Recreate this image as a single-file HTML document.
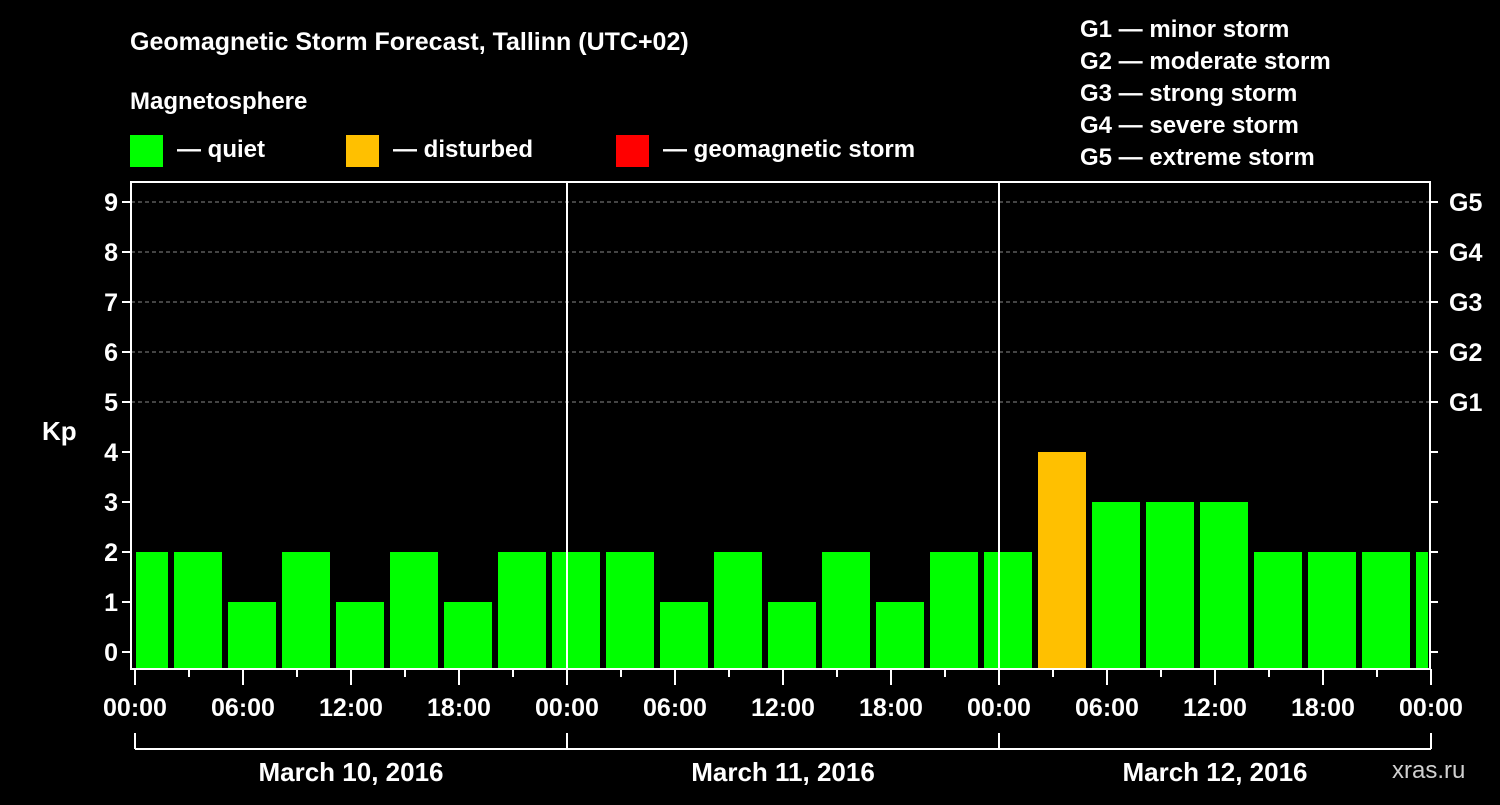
<!DOCTYPE html>
<html><head><meta charset="utf-8"><style>
body{margin:0;background:#000;width:1500px;height:800px;overflow:hidden}
svg text{font-family:"Liberation Sans",Arial,sans-serif;font-weight:bold;fill:#fff}
</style></head><body>
<svg id="c" width="1500" height="800" xmlns="http://www.w3.org/2000/svg">
<text x="130" y="50" font-size="25">Geomagnetic Storm Forecast, Tallinn (UTC+02)</text>
<text x="130" y="109" font-size="24">Magnetosphere</text>
<g><rect x="130" y="135" width="33" height="32" fill="#00ff00"/><text x="177" y="157" font-size="24">— quiet</text></g>
<g><rect x="346" y="135" width="33" height="32" fill="#ffc000"/><text x="393" y="157" font-size="24">— disturbed</text></g>
<g><rect x="616" y="135" width="33" height="32" fill="#ff0000"/><text x="663" y="157" font-size="24">— geomagnetic storm</text></g>
<g font-size="24">
<text x="1080" y="37">G1 — minor storm</text><text x="1080" y="69">G2 — moderate storm</text><text x="1080" y="101">G3 — strong storm</text><text x="1080" y="133">G4 — severe storm</text><text x="1080" y="165">G5 — extreme storm</text></g>
<text x="42" y="440" font-size="26">Kp</text>
<text x="1392" y="778" font-size="24" fill="#ccc" style="fill:#d0d0d0;font-weight:normal">xras.ru</text>
<g id="bars"></g><g id="axes"></g>
</svg>
<script>
const values=[2,2,1,2,1,2,1,2,2,2,1,2,1,2,1,2,2,4,3,3,3,2,2,2,2];
const yTicks=[0,1,2,3,4,5,6,7,8,9];
const gLabels=["G1","G2","G3","G4","G5"];
const xLabels=["00:00","06:00","12:00","18:00","00:00","06:00","12:00","18:00","00:00","06:00","12:00","18:00","00:00"];
const dayLabels=["March 10, 2016","March 11, 2016","March 12, 2016"];
const NS="http://www.w3.org/2000/svg";
const L=131,R=1430,T=182,B=669,X0=135,HPX=18;
const y=v=>652-50*v, x=h=>X0+h*HPX;
function mk(t,a,p){const e=document.createElementNS(NS,t);for(const k in a)e.setAttribute(k,a[k]);(p||document.getElementById('axes')).appendChild(e);return e;}
const bars=document.getElementById('bars');
values.forEach((v,i)=>{const cx=x(i*3+0.5);let x1=Math.max(cx-24,L+5),x2=Math.min(cx+24,R-2);
const r=mk('rect',{x:x1,y:y(v),width:x2-x1,height:B-y(v),fill:v>=5?'#ff0000':v>=4?'#ffc000':'#00ff00'},bars);

});
yTicks.forEach(v=>{
if(v>=5){const g=mk('line',{x1:L,x2:R,y1:y(v),y2:y(v),stroke:'#888','stroke-dasharray':'4,3','stroke-width':1});}
mk('line',{x1:L-9,x2:L,y1:y(v),y2:y(v),stroke:'#fff','stroke-width':2});
mk('line',{x1:R,x2:R+8,y1:y(v),y2:y(v),stroke:'#fff','stroke-width':2});
const t=mk('text',{x:L-13,y:y(v)+9,'font-size':25,'text-anchor':'end'});t.textContent=v;
});
gLabels.forEach((g,i)=>{const t=mk('text',{x:R+19,y:y(5+i)+9,'font-size':25});t.textContent=g;
});
mk('rect',{x:L,y:T,width:R-L,height:B-T,fill:'none',stroke:'#fff','stroke-width':2});
[1,2].forEach(d=>mk('line',{x1:x(d*24),x2:x(d*24),y1:T,y2:B,stroke:'#fff','stroke-width':2}));
for(let h=0;h<=72;h+=3){mk('line',{x1:x(h),x2:x(h),y1:B,y2:B+(h%6?8:16),stroke:'#fff','stroke-width':2});}
xLabels.forEach((s,i)=>{const t=mk('text',{x:x(i*6),y:716,'font-size':25,'text-anchor':'middle'});t.textContent=s;
});
mk('line',{x1:x(0),x2:x(72),y1:749,y2:749,stroke:'#fff','stroke-width':2});
for(let d=0;d<=3;d++)mk('line',{x1:x(d*24),x2:x(d*24),y1:733,y2:749,stroke:'#fff','stroke-width':2});
dayLabels.forEach((s,i)=>{const t=mk('text',{x:x(i*24+12),y:781,'font-size':26,'text-anchor':'middle'});t.textContent=s;
});
</script>
</body></html>
